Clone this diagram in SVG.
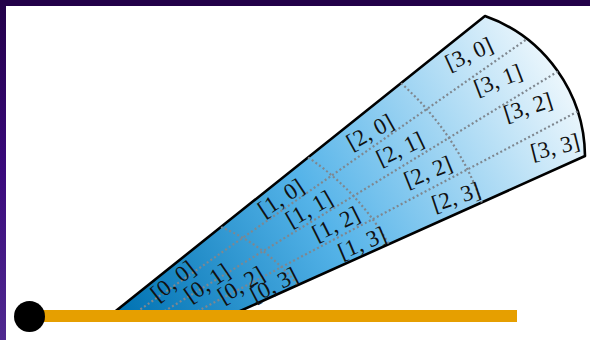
<svg xmlns="http://www.w3.org/2000/svg" width="590" height="340" viewBox="0 0 590 340">
<style>
.lbl{font-family:"Liberation Serif","DejaVu Serif",serif;font-size:23px;fill:#111;text-anchor:middle}
.grid{fill:none;stroke:#7f878f;stroke-width:2.2;stroke-dasharray:2 2.5}
.edge{fill:url(#shade);stroke:#000;stroke-width:2.6;stroke-linejoin:round}
</style>
<defs>
<linearGradient id="side" x1="0" y1="0" x2="0" y2="1">
<stop offset="0" stop-color="#220048"/>
<stop offset="0.5" stop-color="#3a0a7c"/>
<stop offset="1" stop-color="#502a90"/>
</linearGradient>
<linearGradient id="shade" gradientUnits="userSpaceOnUse" x1="117" y1="310" x2="580" y2="35">
<stop offset="0" stop-color="#0072B2"/>
<stop offset="0.42" stop-color="#56B4E9"/>
<stop offset="1" stop-color="#ffffff"/>
</linearGradient>
<clipPath id="wclip">
<path d="M109.5,316 L485,16 A150,150 0 0 1 585,156 L229,316 Z"/>
</clipPath>
</defs>
<rect x="0" y="0" width="590" height="340" fill="#fff"/>
<g id="frame">
<rect x="0" y="0" width="590" height="6" fill="#220048"/>
<rect x="0" y="0" width="6" height="340" fill="url(#side)"/>
</g>
<g id="wedge">
<path class="edge" d="M109.5,316 L485,16 A150,150 0 0 1 585,156 L229,316 Z"/>
</g>
<g id="connectors" clip-path="url(#wclip)">
<path class="grid" d="M221,226.9 Q266.7,246.4 298,285.2"/>
<path class="grid" d="M308,157.4 Q358.8,191.5 389,244.5"/>
<path class="grid" d="M401,83.1 Q456.4,132.9 482,203"/>
<path class="grid" d="M110.9,330 L600,-12.1"/>
<path class="grid" d="M133.6,330 L600,45.8"/>
<path class="grid" d="M161.7,330 L600,99.8"/>
</g>
<g id="labels">
<g id="c00"><text class="lbl" transform="translate(173,281) rotate(-38)" dy="7.5">[0, 0]</text></g>
<g id="c01"><text class="lbl" transform="translate(207,283) rotate(-34.5)" dy="7.5">[0, 1]</text></g>
<g id="c02"><text class="lbl" transform="translate(241,285) rotate(-31)" dy="7.5">[0, 2]</text></g>
<g id="c03"><text class="lbl" transform="translate(274,285) rotate(-27.5)" dy="7.5">[0, 3]</text></g>
<g id="c10"><text class="lbl" transform="translate(281,198) rotate(-33.5)" dy="7.5">[1, 0]</text></g>
<g id="c11"><text class="lbl" transform="translate(309,209) rotate(-30)" dy="7.5">[1, 1]</text></g>
<g id="c12"><text class="lbl" transform="translate(336,224) rotate(-26.5)" dy="7.5">[1, 2]</text></g>
<g id="c13"><text class="lbl" transform="translate(362,243) rotate(-23)" dy="7.5">[1, 3]</text></g>
<g id="c20"><text class="lbl" transform="translate(370,132) rotate(-29)" dy="7.5">[2, 0]</text></g>
<g id="c21"><text class="lbl" transform="translate(400,149) rotate(-25.5)" dy="7.5">[2, 1]</text></g>
<g id="c22"><text class="lbl" transform="translate(428,172) rotate(-22)" dy="7.5">[2, 2]</text></g>
<g id="c23"><text class="lbl" transform="translate(456,197) rotate(-18.5)" dy="7.5">[2, 3]</text></g>
<g id="c30"><text class="lbl" transform="translate(469,54) rotate(-24.5)" dy="7.5">[3, 0]</text></g>
<g id="c31"><text class="lbl" transform="translate(498,80) rotate(-21)" dy="7.5">[3, 1]</text></g>
<g id="c32"><text class="lbl" transform="translate(528,107) rotate(-17.5)" dy="7.5">[3, 2]</text></g>
<g id="c33"><text class="lbl" transform="translate(555,147) rotate(-14)" dy="7.5">[3, 3]</text></g>
</g>
<g id="baseline">
<line x1="29" y1="316" x2="517" y2="316" stroke="#E69F00" stroke-width="12"/>
</g>
<g id="source">
<circle cx="29.5" cy="316.5" r="15.5" fill="#000"/>
</g>
</svg>
